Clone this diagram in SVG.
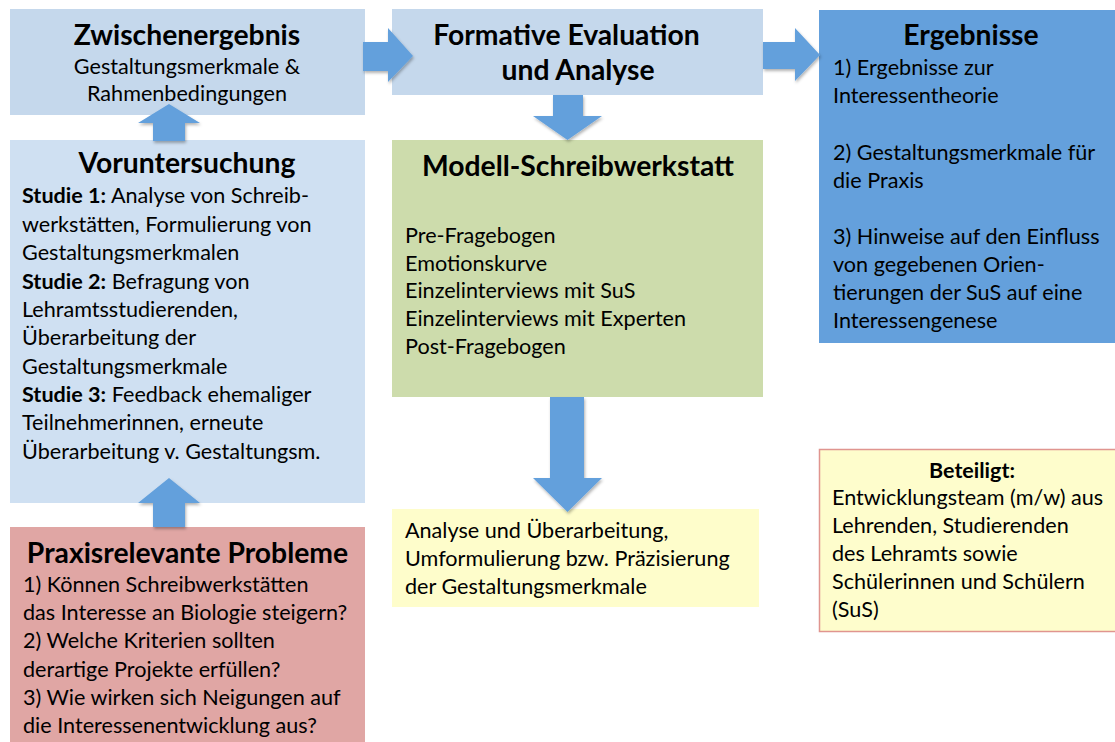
<svg xmlns="http://www.w3.org/2000/svg" width="1115" height="742" viewBox="0 0 1115 742">
<style>
text{font-family:Lato,"Liberation Sans",sans-serif;fill:#000}
.t{font-size:28.3px;font-weight:bold;text-anchor:middle}
.b{font-size:21.6px}
.c{text-anchor:middle}
.bold{font-weight:bold}
.arrow{fill:#63a0dc;filter:url(#sh)}
</style>
<defs>
<filter id="sh" x="-20%" y="-20%" width="140%" height="140%">
<feDropShadow dx="1" dy="2" stdDeviation="1.5" flood-color="#000" flood-opacity="0.3"/>
</filter>
</defs>
<rect width="1115" height="742" fill="#fff"/>
<g id="zwischenergebnis">
<rect x="10" y="9" width="355" height="106" fill="#c5d8ec"/>
<text class="t" x="187" y="45">Zwischenergebnis</text>
<text class="b c" x="187" y="74">Gestaltungsmerkmale &amp;</text>
<text class="b c" x="187" y="101">Rahmenbedingungen</text>
</g>
<g id="voruntersuchung">
<rect x="10" y="140" width="355" height="363" fill="#cfe0f2"/>
<text class="t" x="187" y="173">Voruntersuchung</text>
<text class="b" x="22" y="203"><tspan class="bold">Studie 1:</tspan> Analyse von Schreib-</text>
<text class="b" x="22" y="231.5">werkstätten, Formulierung von</text>
<text class="b" x="22" y="260">Gestaltungsmerkmalen</text>
<text class="b" x="22" y="288.5"><tspan class="bold">Studie 2:</tspan> Befragung von</text>
<text class="b" x="22" y="317">Lehramtsstudierenden,</text>
<text class="b" x="22" y="345">Überarbeitung der</text>
<text class="b" x="22" y="373.5">Gestaltungsmerkmale</text>
<text class="b" x="22" y="402"><tspan class="bold">Studie 3:</tspan> Feedback ehemaliger</text>
<text class="b" x="22" y="430">Teilnehmerinnen, erneute</text>
<text class="b" x="22" y="458.5">Überarbeitung v. Gestaltungsm.</text>
</g>
<g id="praxisrelevante-probleme">
<rect x="10" y="527" width="355" height="215" fill="#e0a6a4"/>
<text class="t" x="187.5" y="563">Praxisrelevante Probleme</text>
<text class="b" x="23" y="592">1) Können Schreibwerkstätten</text>
<text class="b" x="23" y="620">das Interesse an Biologie steigern?</text>
<text class="b" x="23" y="648">2) Welche Kriterien sollten</text>
<text class="b" x="23" y="677">derartige Projekte erfüllen?</text>
<text class="b" x="23" y="705">3) Wie wirken sich Neigungen auf</text>
<text class="b" x="23" y="733">die Interessenentwicklung aus?</text>
</g>
<g id="formative-evaluation">
<rect x="392" y="9" width="371" height="86" fill="#c5d8ec"/>
<text class="t" x="566.5" y="45">Formative Evaluation</text>
<text class="t" x="578" y="80">und Analyse</text>
</g>
<g id="modell-schreibwerkstatt">
<rect x="392" y="140" width="371" height="257" fill="#cddcac"/>
<text class="t" x="578" y="176">Modell-Schreibwerkstatt</text>
<text class="b" x="405" y="243">Pre-Fragebogen</text>
<text class="b" x="405" y="271">Emotionskurve</text>
<text class="b" x="405" y="298">Einzelinterviews mit SuS</text>
<text class="b" x="405" y="326">Einzelinterviews mit Experten</text>
<text class="b" x="405" y="354">Post-Fragebogen</text>
</g>
<g id="analyse">
<rect x="392" y="509" width="367" height="98" fill="#fefdcb"/>
<text class="b" x="405" y="538">Analyse und Überarbeitung,</text>
<text class="b" x="405" y="566">Umformulierung bzw. Präzisierung</text>
<text class="b" x="405" y="594">der Gestaltungsmerkmale</text>
</g>
<g id="ergebnisse">
<rect x="819" y="10" width="296" height="333" fill="#64a0dc"/>
<text class="t" x="971" y="45">Ergebnisse</text>
<text class="b" x="833" y="75">1) Ergebnisse zur</text>
<text class="b" x="833" y="103">Interessentheorie</text>
<text class="b" x="833" y="160">2) Gestaltungsmerkmale für</text>
<text class="b" x="833" y="188">die Praxis</text>
<text class="b" x="833" y="244">3) Hinweise auf den Einfluss</text>
<text class="b" x="833" y="272">von gegebenen Orien-</text>
<text class="b" x="833" y="300">tierungen der SuS auf eine</text>
<text class="b" x="833" y="328">Interessengenese</text>
</g>
<g id="beteiligt">
<rect x="819.5" y="449.5" width="300" height="182" fill="#fefdcc" stroke="#e0958f" stroke-width="1.5"/>
<text class="c bold" x="972" y="478" style="font-size:21.5px">Beteiligt:</text>
<text class="b" x="832" y="505">Entwicklungsteam (m/w) aus</text>
<text class="b" x="832" y="533">Lehrenden, Studierenden</text>
<text class="b" x="832" y="561">des Lehramts sowie</text>
<text class="b" x="832" y="589">Schülerinnen und Schülern</text>
<text class="b" x="832" y="617">(SuS)</text>
</g>
<g id="connectors">
<polygon class="arrow" points="363,42 388,42 388,28 413,56 388,82 388,71 363,71"/>
<polygon class="arrow" points="763,42 795,42 795,28 820,55 795,81 795,69 763,69"/>
<polygon class="arrow" points="553,95 583,95 583,116 602,116 567.5,140 533,116 553,116"/>
<polygon class="arrow" points="550,397 584,397 584,478 602,478 567.5,512 533,478 550,478"/>
<polygon class="arrow" points="153,141 185,141 185,123 200,123 169,104 138,123 153,123"/>
<polygon class="arrow" points="153,527 185,527 185,503 200,503 169,478 138,503 153,503"/>
</g>
</svg>
